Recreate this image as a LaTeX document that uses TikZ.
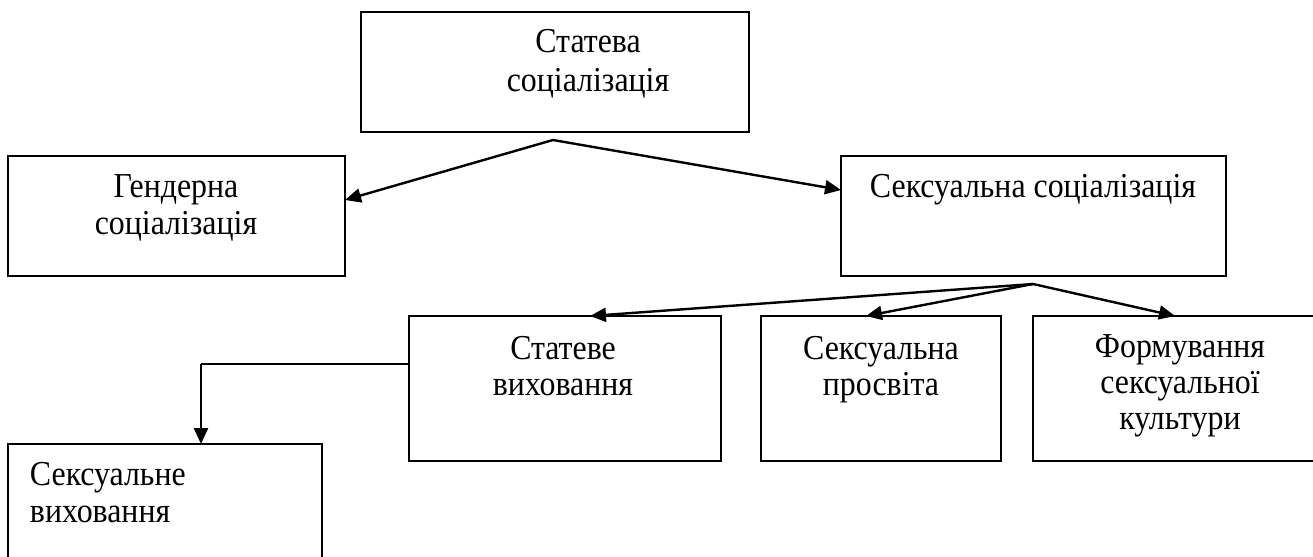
\documentclass[tikz,border=0pt]{standalone}
\usepackage{fontspec}
\setmainfont[FakeStretch=0.91]{Liberation Serif}
\usetikzlibrary{arrows.meta}
\tikzset{
  box/.style={draw=black, line width=0.8pt, rectangle, inner sep=0pt, outer sep=0pt},
  txt/.style={anchor=base, inner sep=0pt, outer sep=0pt, font=\fontsize{17.5}{18.5}\selectfont},
  txtl/.style={txt, anchor=base west},
  conn/.style={draw=black, line width=1.2pt, -{Triangle[length=8pt,width=7pt]}},
  plain/.style={draw=black, line width=0.8pt}
}
\begin{document}
\begin{tikzpicture}[x=0.5pt,y=-0.5pt]
\useasboundingbox[fill=white] (0,0) rectangle (1313,557);
% boxes
\node[box, minimum width=194pt, minimum height=60pt] (top) at (555,72) {};
\node[box, minimum width=168.5pt, minimum height=60pt] (gend) at (176.5,216) {};
\node[box, minimum width=192.5pt, minimum height=60pt] (sexs) at (1033.5,216) {};
\node[box, minimum width=156pt, minimum height=72.5pt] (stv) at (565,388.5) {};
\node[box, minimum width=120pt, minimum height=72.5pt] (pros) at (881,388.5) {};
\node[box, minimum width=141.5pt, minimum height=72.5pt] (kult) at (1174.5,388.5) {};
\node[box, minimum width=157pt, minimum height=68pt] (sexv) at (165,512) {};
% texts
\node[txt] (t1a) at (588,52) {Статева};
\node[txt] (t1b) at (588,91) {соціалізація};
\node[txt] (t2a) at (176,197) {Гендерна};
\node[txt] (t2b) at (176,234) {соціалізація};
\node[txt] (t3a) at (1033,197) {Сексуальна соціалізація};
\node[txt] (t4a) at (563,359) {Статеве};
\node[txt] (t4b) at (563,395) {виховання};
\node[txt] (t5a) at (881,359) {Сексуальна};
\node[txt] (t5b) at (881,395) {просвіта};
\node[txt] (t6a) at (1180,357) {Формування};
\node[txt] (t6b) at (1180,393) {сексуальної};
\node[txt] (t6c) at (1180,429) {культури};
\node[txtl] (t7a) at (30,485) {Сексуальне};
\node[txtl] (t7b) at (30,522) {виховання};
% connector points
\coordinate (apex1) at (553,140);
\coordinate (apex2) at (1033,284);
\coordinate (bend) at (201,364);
% connectors
\draw[conn] (apex1) -- (gend.east |- 0,200);
\draw[conn] (apex1) -- (sexs.west |- 0,190);
\draw[conn] (apex2) -- (stv.north -| 590,0);
\draw[conn] (apex2) -- (pros.north -| 866,0);
\draw[conn] (apex2) -- (kult.north -| 1175,0);
\draw[plain] (stv.west |- bend) -- (bend);
\draw[conn] (bend) -- (sexv.north -| bend);
\end{tikzpicture}
\end{document}
